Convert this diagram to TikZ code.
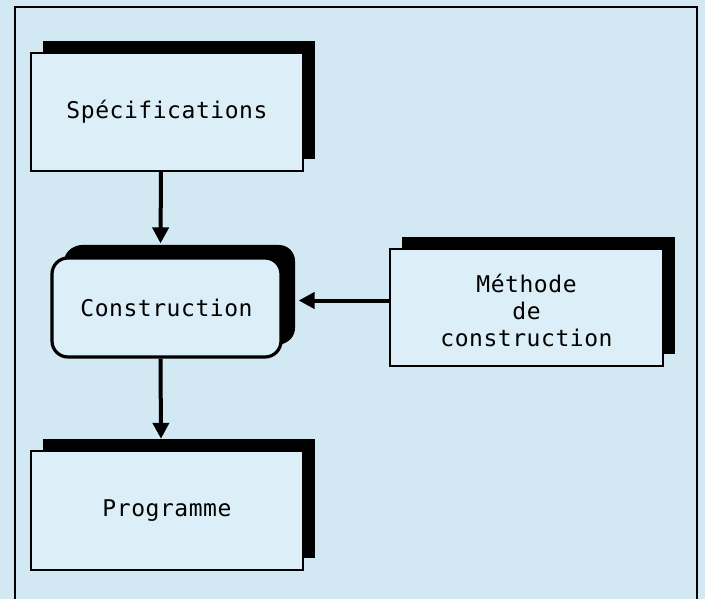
\documentclass[tikz,border=0pt]{standalone}
\usepackage{fontspec}
\usepackage{tikz}
\usetikzlibrary{arrows.meta,shadows}
\newfontfamily\pixfont{DejaVu Sans Mono}[LetterSpace=2.4]
\definecolor{paperblue}{HTML}{D2E8F3}
\definecolor{boxblue}{HTML}{DCEEF7}

\tikzset{
    box/.style={draw=black, line width=2.4pt, fill=boxblue,
        minimum width=272pt, minimum height=118pt,
        font=\pixfont\fontsize{23}{27}\selectfont, align=center,
        drop shadow={shadow xshift=12pt, shadow yshift=12pt, fill=black, opacity=1}},
    roundbox/.style={box, line width=3.2pt, rounded corners=16pt,
        minimum width=229pt, minimum height=99pt,
        drop shadow={shadow xshift=14pt, shadow yshift=13pt, fill=black, opacity=1}},
    flow/.style={line width=4pt, -{Triangle[width=16pt,length=16pt]}}
}

\begin{document}
\begin{tikzpicture}[x=1pt, y=-1pt]
    % fond et cadre
    \fill[paperblue] (0,0) rectangle (705,599);
    \useasboundingbox (0,0) rectangle (705,599);
    \draw[line width=2pt] (15,605) -- (15,7) -- (697,7) -- (697,605);

    % boites
    \node[box] (spec) at (167,112) {Sp\'ecifications};
    \node[roundbox] (constr) at (166.5,307.5) {Construction};
    \node[box, minimum width=273pt, minimum height=117pt] (meth) at (526.5,307.5)
        {\vphantom{M}\\[-20pt]M\'ethode\\de\\construction};
    \node[box, minimum height=119pt] (prog) at (167,510.5) {Programme};

    % fleches
    \draw[flow] ([xshift=-6pt]spec.south) -- ([xshift=-6pt, yshift=13pt]constr.north);
    \draw[flow] ([xshift=-6pt]constr.south) -- ([xshift=-6pt, yshift=11pt]prog.north);
    \draw[flow] ([yshift=7pt]meth.west) -- ([xshift=16pt, yshift=7pt]constr.east);
\end{tikzpicture}
\end{document}
